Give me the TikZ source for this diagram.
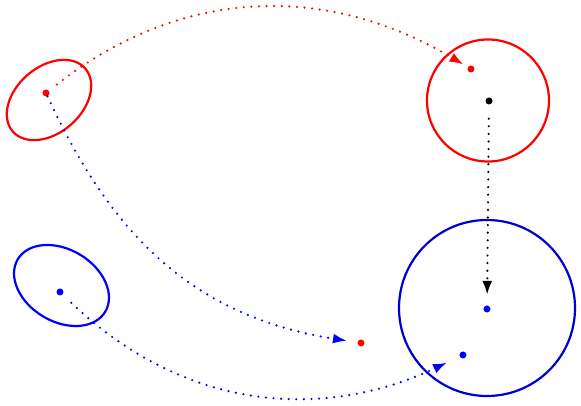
\documentclass[tikz,border=0pt]{standalone}
\usetikzlibrary{arrows.meta}
\definecolor{dkblue}{RGB}{0,0,205}
\begin{document}
\begin{tikzpicture}[x=1pt,y=1pt,
  dotpt/.style={circle,fill=#1,inner sep=0pt,minimum size=7pt},
  rim/.style={draw=#1,line width=2.2pt},
  conn/.style={draw=#1,line width=2.4pt,line cap=round,dash pattern=on 0pt off 7.6pt,
    -{Latex[length=14pt,width=10pt,fill=#1]}}]
\useasboundingbox (0,0) rectangle (581,406);
% outlines
\draw[rim=red] (49,306) ellipse [x radius=48, y radius=33, rotate=41];
\draw[rim=blue] (61.5,120.5) ellipse [x radius=51, y radius=36, rotate=-31];
\draw[rim=red] (488,305.5) circle [radius=61];
\draw[rim=dkblue] (487,98) circle [radius=88];
% points
\node[dotpt=red] (a) at (46,313) {};
\node[dotpt=red] (b) at (471,337) {};
\node[dotpt=black] (c) at (489,305) {};
\node[dotpt=blue] (d) at (60,114) {};
\node[dotpt=blue] (e) at (487,97) {};
\node[dotpt=blue] (f) at (463,51) {};
\node[dotpt=red] (g) at (361,63) {};
% connectors
\draw[conn=red,shorten <=10pt,shorten >=5pt] (a) .. controls (180,418) and (325,424) .. (b);
\draw[conn=blue,shorten >=10.5pt] (a) .. controls (109,176) and (189,90) .. (g);
\draw[conn=black,shorten <=14pt,shorten >=10.5pt] (c) -- (e);
\draw[conn=blue,shorten <=12pt,shorten >=14pt] (d) .. controls (190,-10) and (330,-12) .. (f);
\end{tikzpicture}
\end{document}
